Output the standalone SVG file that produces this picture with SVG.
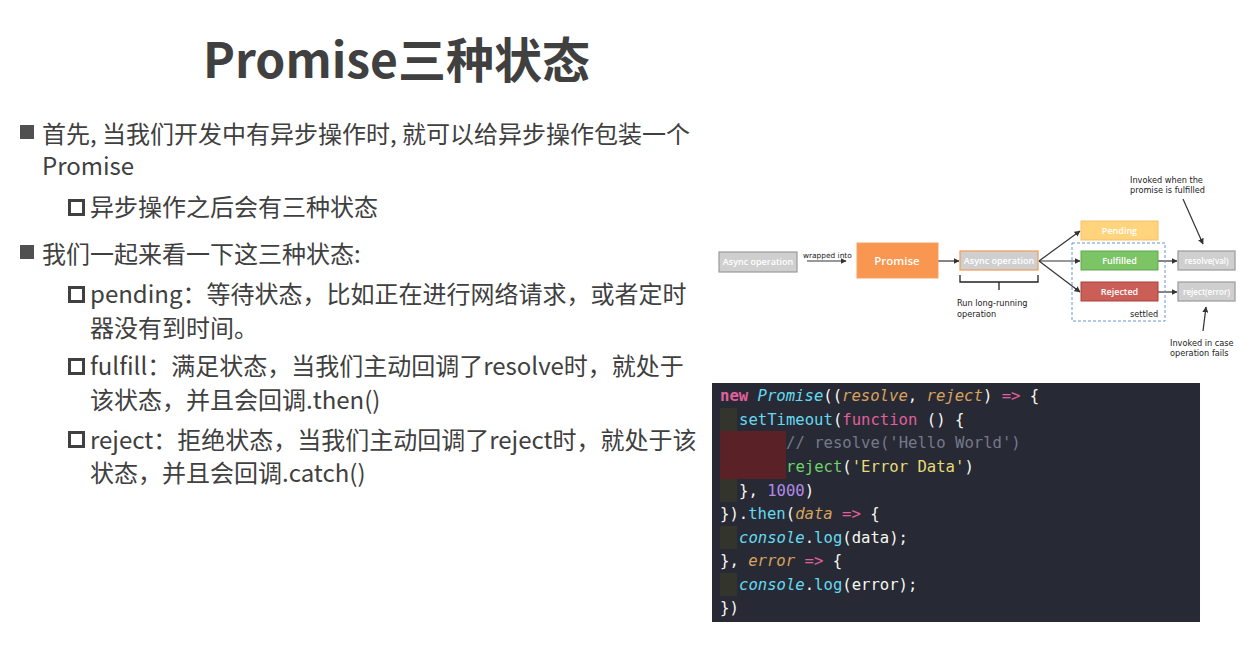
<svg xmlns="http://www.w3.org/2000/svg" width="1259" height="646" viewBox="0 0 1259 646">
<defs>
<style>
.t{font-family:"Noto Sans CJK SC","Noto Sans",sans-serif;fill:#404040;font-size:24px}
.title{font-family:"Noto Sans CJK SC","Noto Sans",sans-serif;font-weight:bold;fill:#404040;font-size:48px}
.lbl{font-family:"Open Sans","Liberation Sans",sans-serif;fill:#fff;font-size:9px;text-anchor:middle;font-weight:600}
.note{font-family:"DejaVu Sans",sans-serif;fill:#222;font-size:8.2px}
.c{font-family:"DejaVu Sans Mono",monospace;font-size:15.6px;fill:#f8f8f2;white-space:pre}
.kw{fill:#e0609a}.b{font-weight:bold}.cy{fill:#66d9ef}.or{fill:#d9a25c}.it{font-style:italic}.cm{fill:#75798a}.gr{fill:#6ed36a}.st{fill:#e6db74}.nu{fill:#b08be6}
.edge{stroke:#333;stroke-width:1.2;fill:none;marker-end:url(#ah)}
</style>
<marker id="ah" viewBox="0 0 10 10" refX="9" refY="5" markerWidth="6" markerHeight="6" orient="auto-start-reverse" markerUnits="userSpaceOnUse">
<path d="M0,0 L10,5 L0,10 z" fill="#333"/>
</marker>
</defs>
<rect width="1259" height="646" fill="#fff"/>

<g id="slide-text">
<text class="title" x="203" y="78">Promise三种状态</text>
<rect x="20" y="125" width="14" height="14" fill="#505050"/>
<text class="t" x="42" y="143">首先, 当我们开发中有异步操作时, 就可以给异步操作包装一个</text>
<text class="t" x="42" y="175">Promise</text>
<rect x="69.5" y="200.5" width="14" height="14" fill="none" stroke="#404040" stroke-width="3"/>
<text class="t" x="90" y="216">异步操作之后会有三种状态</text>
<rect x="20" y="245" width="14" height="14" fill="#505050"/>
<text class="t" x="42" y="263">我们一起来看一下这三种状态:</text>
<rect x="69.5" y="287.5" width="14" height="14" fill="none" stroke="#404040" stroke-width="3"/>
<text class="t" x="90" y="303">pending：等待状态，比如正在进行网络请求，或者定时</text>
<text class="t" x="90" y="337">器没有到时间。</text>
<rect x="69.5" y="359.5" width="14" height="14" fill="none" stroke="#404040" stroke-width="3"/>
<text class="t" x="90" y="375">fulfill：满足状态，当我们主动回调了resolve时，就处于</text>
<text class="t" x="90" y="409">该状态，并且会回调.then()</text>
<rect x="69.5" y="432.5" width="14" height="14" fill="none" stroke="#404040" stroke-width="3"/>
<text class="t" x="90" y="449">reject：拒绝状态，当我们主动回调了reject时，就处于该</text>
<text class="t" x="90" y="482">状态，并且会回调.catch()</text>
</g>

<g id="connectors">
<path class="edge" d="M807,261 H846"/>
<path class="edge" d="M938,261 H959"/>
<path class="edge" d="M1039,261 L1080,231"/>
<path class="edge" d="M1039,261 H1080"/>
<path class="edge" d="M1039,261 L1080,292"/>
<path class="edge" d="M1158,261 H1177"/>
<path class="edge" d="M1158,292 H1177"/>
<path class="edge" d="M1183,199 L1203,244"/>
<path class="edge" d="M1203,331 L1206,307"/>
<path d="M960,275 V282 H999 V290 M999,282 H1038 V275" stroke="#222" stroke-width="1.3" fill="none"/>
</g>

<g id="n-async1"><rect x="719" y="252" width="78" height="20" fill="#cfcfcf" stroke="#9a9a9a" stroke-width="1.2"/><text class="lbl" x="758" y="265">Async operation</text></g>
<text class="note" x="803" y="258" style="font-size:7.4px">wrapped into</text>
<g id="n-promise"><rect x="857" y="243" width="81" height="35" fill="#f9964f" stroke="#f4a166"/><text class="lbl" x="897" y="265" style="font-size:11.5px">Promise</text></g>
<g id="n-async2"><rect x="960" y="251" width="78" height="19" fill="#cfcfcf" stroke="#f19a55" stroke-width="1.2"/><text class="lbl" x="999" y="264">Async operation</text></g>
<text class="note" x="957" y="306">Run long-running</text>
<text class="note" x="957" y="317">operation</text>
<g id="settled"><rect x="1072" y="243" width="93" height="78" fill="none" stroke="#6a95c9" stroke-width="1" stroke-dasharray="3,2"/><text class="note" x="1130" y="317">settled</text></g>
<g id="n-pending"><rect x="1081" y="221" width="77" height="19" fill="#ffd47c" stroke="#f5c06a"/><text class="lbl" x="1119.5" y="234">Pending</text></g>
<g id="n-fulfilled"><rect x="1081" y="251" width="77" height="19" fill="#7cc466" stroke="#5ea84b"/><text class="lbl" x="1119.5" y="264">Fulfilled</text></g>
<g id="n-rejected"><rect x="1081" y="282" width="77" height="19" fill="#cc5e58" stroke="#a9403c"/><text class="lbl" x="1119.5" y="295">Rejected</text></g>
<g id="n-resolve"><rect x="1178" y="251" width="57" height="19" fill="#cfcfcf" stroke="#9a9a9a" stroke-width="1.2"/><text class="lbl" x="1206.5" y="264" style="font-size:8px">resolve(val)</text></g>
<g id="n-reject"><rect x="1178" y="282" width="57" height="19" fill="#cfcfcf" stroke="#9a9a9a" stroke-width="1.2"/><text class="lbl" x="1206.5" y="295" style="font-size:8px">reject(error)</text></g>
<text class="note" x="1130" y="183">Invoked when the</text>
<text class="note" x="1130" y="193">promise is fulfilled</text>
<text class="note" x="1170" y="346">Invoked in case</text>
<text class="note" x="1170" y="356">operation fails</text>

<g id="code">
<rect x="712" y="383" width="488" height="239" fill="#272a35"/>
<rect x="720" y="408" width="17" height="23" fill="#33352c"/>
<rect x="720" y="431" width="66" height="48" fill="#5a2226"/>
<rect x="720" y="479" width="17" height="23" fill="#33352c"/>
<rect x="720" y="526" width="17" height="23" fill="#33352c"/>
<rect x="720" y="573" width="17" height="23" fill="#33352c"/>
<text class="c" x="720" y="401"><tspan class="kw b">new</tspan> <tspan class="cy it">Promise</tspan>((<tspan class="or it">resolve</tspan>, <tspan class="or it">reject</tspan>) <tspan class="kw">=&gt;</tspan> {</text>
<text class="c" x="739" y="425"><tspan class="cy">setTimeout</tspan>(<tspan class="kw">function</tspan> () {</text>
<text class="c cm" x="786" y="448">// resolve('Hello World')</text>
<text class="c" x="786" y="472"><tspan class="gr">reject</tspan>(<tspan class="st">'Error Data'</tspan>)</text>
<text class="c" x="739" y="496">}, <tspan class="nu">1000</tspan>)</text>
<text class="c" x="720" y="519">}).<tspan class="cy">then</tspan>(<tspan class="or it">data</tspan> <tspan class="kw">=&gt;</tspan> {</text>
<text class="c" x="739" y="543"><tspan class="cy it">console</tspan>.<tspan class="cy">log</tspan>(data);</text>
<text class="c" x="720" y="566">}, <tspan class="or it">error</tspan> <tspan class="kw">=&gt;</tspan> {</text>
<text class="c" x="739" y="590"><tspan class="cy it">console</tspan>.<tspan class="cy">log</tspan>(error);</text>
<text class="c" x="720" y="613">})</text>
</g>
</svg>
